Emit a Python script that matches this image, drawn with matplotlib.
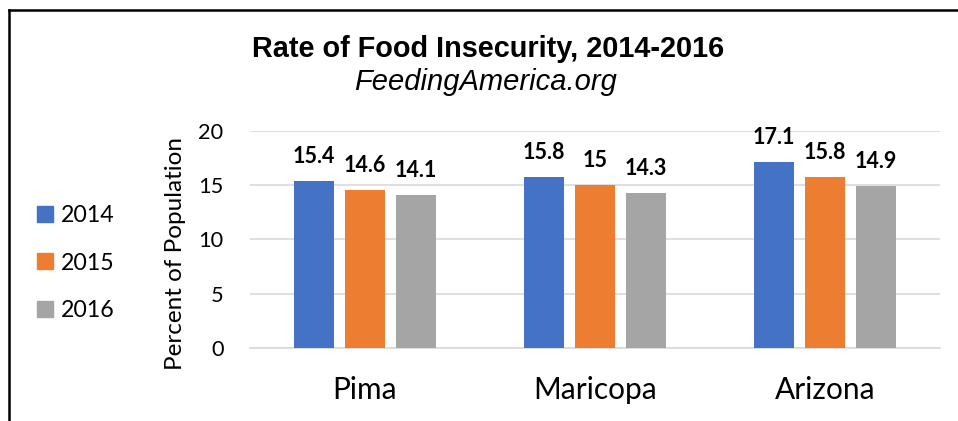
import numpy as np
import matplotlib.pyplot as plt
from matplotlib.lines import Line2D

# Datos (FeedingAmerica.org)
condados = ["Pima", "Maricopa", "Arizona"]
anios = ["2014", "2015", "2016"]
tasa_2014 = [15.4, 15.8, 17.1]
tasa_2015 = [14.6, 15.0, 15.8]
tasa_2016 = [14.1, 14.3, 14.9]
etiquetas_2014 = ["15.4", "15.8", "17.1"]
etiquetas_2015 = ["14.6", "15", "15.8"]
etiquetas_2016 = ["14.1", "14.3", "14.9"]
marcas_y = [0, 5, 10, 15, 20]

colores = ["#4472C4", "#ED7D31", "#A5A5A5"]
fuente = ["Lato", "DejaVu Sans"]

fig = plt.figure(figsize=(9.58, 4.21), dpi=100)
ax = fig.add_axes([250 / 958, 1 - 348 / 421, 690 / 958, 217 / 421])

x = np.arange(len(condados))
ancho = 0.174
paso = 0.222
series = [tasa_2014, tasa_2015, tasa_2016]
etiquetas = [etiquetas_2014, etiquetas_2015, etiquetas_2016]

for i, (valores, textos) in enumerate(zip(series, etiquetas)):
    barras = ax.bar(x + (i - 1) * paso, valores, width=ancho, color=colores[i],
                    label=anios[i], zorder=3)
    for b, t in zip(barras, textos):
        ax.annotate(t, (b.get_x() + b.get_width() / 2, b.get_height()),
                    xytext=(0, 13), textcoords="offset points", ha="center",
                    va="baseline", fontsize=15.5, fontweight="bold", family=fuente)

ax.set_xlim(-0.5, 2.5)
ax.set_ylim(0, 20)
ax.set_yticks(marcas_y)
ax.set_xticks(x)
ax.set_xticklabels(condados, fontsize=21.5, family=fuente)
for lab in ax.get_yticklabels():
    lab.set_fontsize(15.7)
    lab.set_family(fuente)
ax.tick_params(axis="both", length=0)
ax.tick_params(axis="y", pad=19)
ax.tick_params(axis="x", pad=20)
ax.grid(axis="y", color="#D9D9D9", linewidth=1.2, zorder=0)
for lado in ["top", "right", "left"]:
    ax.spines[lado].set_visible(False)
ax.spines["bottom"].set_color("#D9D9D9")
ax.spines["bottom"].set_linewidth(1.2)

ax.set_ylabel("Percent of Population", fontsize=17.5, family=fuente)
ax.yaxis.set_label_coords((186 - 250) / 690, (348 - 254) / 217)

# Leyenda a la izquierda
manejadores = [Line2D([], [], marker="s", linestyle="", markersize=11,
                      color=c) for c in colores]
fig.legend(manejadores, anios, loc="center left", bbox_to_anchor=(10 / 958, 1 - 263 / 421),
           frameon=False, prop={"family": fuente, "size": 16.7}, handletextpad=0.1,
           labelspacing=1.15, handlelength=1.2)

# Titulos
fig.text(488 / 958, 1 - 57 / 421, "Rate of Food Insecurity, 2014-2016", ha="center",
         va="baseline", fontsize=20.8, fontweight="bold", family="Liberation Sans")
fig.text(486 / 958, 1 - 90 / 421, "FeedingAmerica.org", ha="center", va="baseline",
         fontsize=21, style="italic", family="Liberation Sans")

# Marco
fig.add_artist(Line2D([8.7 / 958, 8.7 / 958], [0, 1 - 9.7 / 421], color="black",
                      linewidth=1.8, transform=fig.transFigure))
fig.add_artist(Line2D([8.7 / 958, 1], [1 - 9.7 / 421, 1 - 9.7 / 421], color="black",
                      linewidth=1.8, transform=fig.transFigure))

fig.savefig("out.png", dpi=100)
